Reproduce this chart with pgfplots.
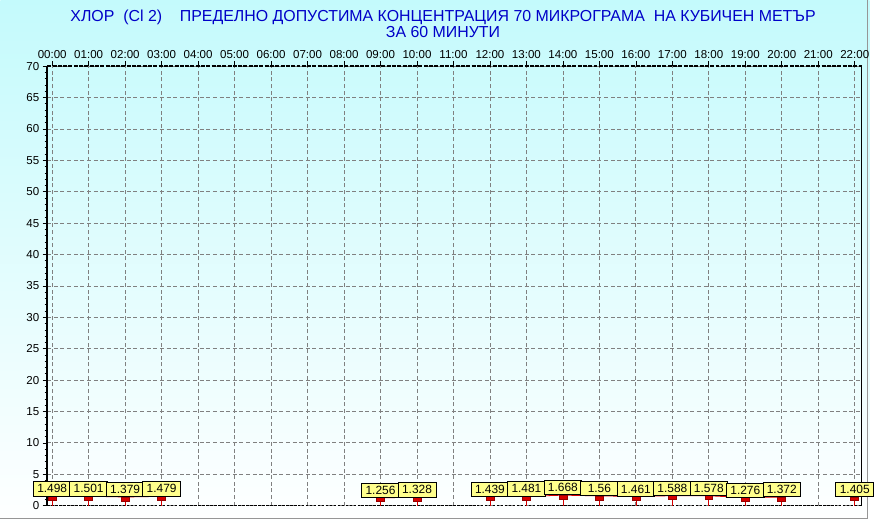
\documentclass[border=0pt]{standalone}
\usepackage{pgfplots}
\pgfplotsset{compat=1.18}
\usepackage{pgfplotstable}
\usepackage{fontspec}
\setmainfont{Liberation Sans}
\definecolor{bgtop}{RGB}{196,250,252}
\definecolor{titleblue}{RGB}{0,0,200}
\definecolor{labyellow}{RGB}{255,255,140}
\definecolor{barred}{RGB}{215,0,0}
\definecolor{gridgray}{RGB}{128,128,128}
\definecolor{framegray}{RGB}{150,150,150}

\pgfdeclareplotmark{redbox}{%
  \pgfpathrectangle{\pgfpoint{-3pt}{-3pt}}{\pgfpoint{6pt}{3pt}}%
  \pgfusepathqfillstroke}

\pgfplotstableread{
h v lab
0 1.498 1.498
1 1.501 1.501
2 1.379 1.379
3 1.479 1.479
9 1.256 1.256
10 1.328 1.328
12 1.439 1.439
13 1.481 1.481
14 1.668 1.668
15 1.56 1.56
16 1.461 1.461
17 1.588 1.588
18 1.578 1.578
19 1.276 1.276
20 1.372 1.372
22 1.405 1.405
}\chlor

\pgfplotstableread{
h v
0 1.498
1 1.501
2 1.379
3 1.479
4 nan
9 1.256
10 1.328
11 nan
12 1.439
13 1.481
14 1.668
15 1.56
16 1.461
17 1.588
18 1.578
19 1.276
20 1.372
21 nan
22 1.405
}\chlorline

\begin{document}
\begin{tikzpicture}
\shade[top color=bgtop, bottom color=white] (-35.25pt,-15.75pt) rectangle (620.25pt,381pt);
\draw[framegray, line width=0.75pt] (-35.25pt,-9.4pt) -- (618.75pt,-9.4pt) -- (618.75pt,381pt);
\begin{axis}[
  at={(0pt,0pt)}, anchor=south west,
  scale only axis, width=614.25pt, height=331.5pt,
  xmin=-0.136, xmax=22.19, ymin=0, ymax=70,
  xtick={0,...,22},
  xticklabels={00:00,01:00,02:00,03:00,04:00,05:00,06:00,07:00,08:00,09:00,10:00,11:00,12:00,13:00,14:00,15:00,16:00,17:00,18:00,19:00,20:00,21:00,22:00},
  xticklabel pos=upper, xtick pos=upper,
  ytick={0,5,...,70}, minor y tick num=4, ytick pos=left,
  grid=major,
  major grid style={gridgray, dash pattern=on 3pt off 2pt, line width=0.6pt},
  axis line style={draw=none},
  tick align=outside, major tick length=3.5pt, minor tick length=2pt,
  every tick/.style={black, line width=0.5pt},
  ticklabel style={font=\fontsize{8.7}{10}\selectfont},
  xticklabel style={yshift=-1pt},
  yticklabel style={xshift=1pt},
  /pgf/number format/assume math mode=true,
  clip=false,
]
\draw[black, line width=0.6pt] (rel axis cs:1,0) -- (rel axis cs:1,1);
\draw[black, line width=1pt, dash pattern=on 3pt off 1pt] (rel axis cs:0,1) -- (rel axis cs:1,1);
\draw[black, line width=0.75pt, dash pattern=on 2pt off 1pt] (rel axis cs:0,0) -- (rel axis cs:1,0);
\draw[black, line width=1.6pt] (rel axis cs:0,0) -- (rel axis cs:0,1);
\addplot[barred, line width=0.6pt, unbounded coords=jump, mark=none, forget plot] table[x=h,y=v] \chlorline;
\addplot[ycomb, barred, line width=0.5pt, mark=redbox, mark options={fill=barred, draw=barred!70!black, solid}, forget plot] table[x=h,y=v] \chlor;
\addplot[draw=none, mark=none, forget plot,
  nodes near coords, point meta=explicit symbolic,
  nodes near coords style={anchor=south, fill=labyellow, draw=black, line width=0.55pt,
    inner sep=0pt, minimum width=28.5pt, minimum height=10.8pt,
    font=\fontsize{9}{10}\selectfont, text=black}]
  table[x=h,y=v,meta=lab] \chlor;
\end{axis}
\node[anchor=base, text=titleblue, font=\fontsize{12}{14}\selectfont] at (298.5pt,365.25pt)
  {ХЛОР\ \ (Cl 2)\ \ \ \ ПРЕДЕЛНО ДОПУСТИМА КОНЦЕНТРАЦИЯ 70 МИКРОГРАМА\ \ НА КУБИЧЕН МЕТЪР};
\node[anchor=base, text=titleblue, font=\fontsize{12}{14}\selectfont] at (298.5pt,353.25pt)
  {ЗА 60 МИНУТИ};
\end{tikzpicture}
\end{document}
